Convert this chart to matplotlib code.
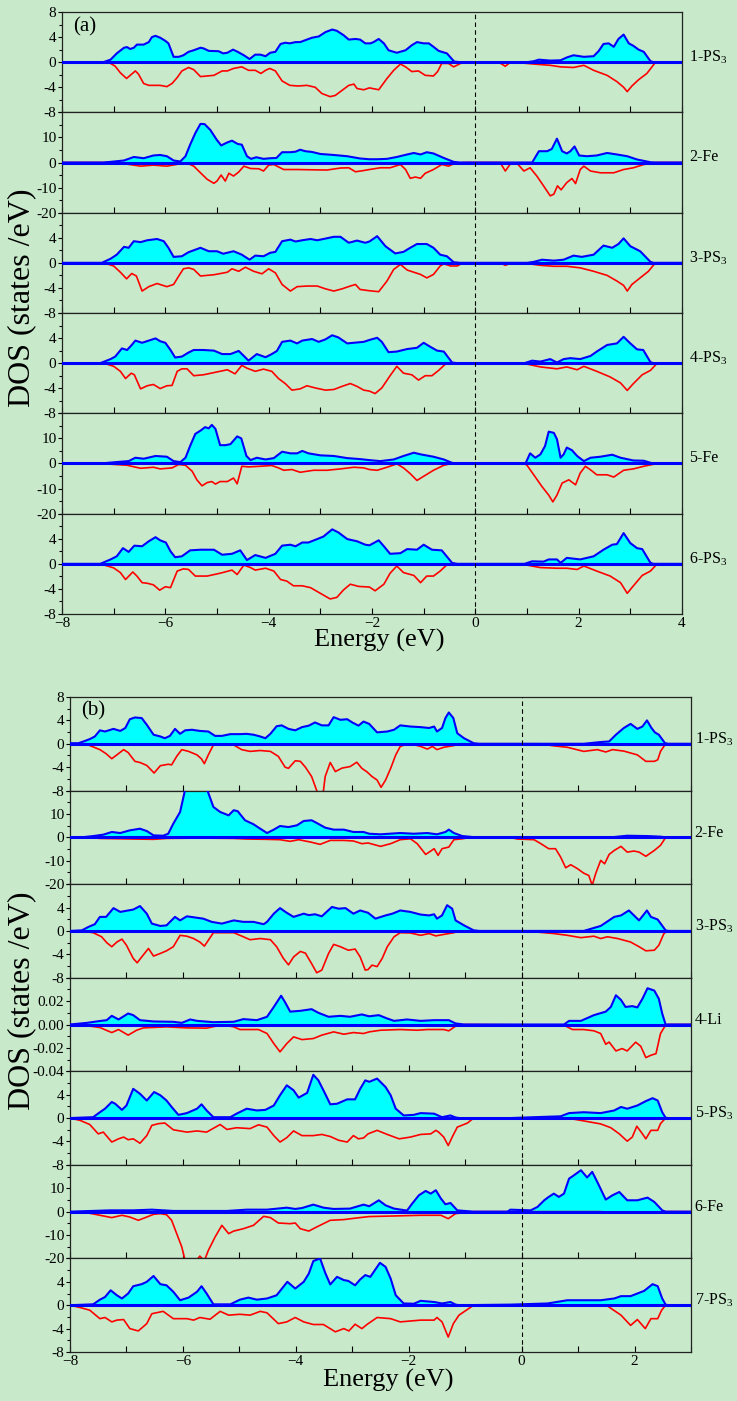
import matplotlib
matplotlib.use("Agg")
import matplotlib.pyplot as plt
from matplotlib.ticker import FixedLocator, MultipleLocator, FixedFormatter

plt.rcParams['font.family'] = ['Liberation Serif', 'DejaVu Serif']
plt.rcParams['mathtext.fontset'] = 'custom'
plt.rcParams['mathtext.rm'] = 'Liberation Serif'
plt.rcParams['mathtext.it'] = 'Liberation Serif:italic'

BG = '#c8eacb'
CYAN = '#00ffff'
BLUE = '#0000ff'
RED = '#ff0000'

# ---- panel (a): spin up / spin down DOS, (energy, dos) pairs ----
a1_up = [(-8, 0), (-7.2, 0), (-7.06, 0.4), (-6.94, 1.4), (-6.8, 2.3), (-6.74, 2.4), (-6.68, 2.1), (-6.61, 2.3), (-6.55, 2.8), (-6.42, 2.8), (-6.32, 3.2), (-6.26, 4.0), (-6.19, 4.2), (-6.1, 3.9), (-6.0, 3.4), (-5.94, 3.0), (-5.84, 0.85), (-5.74, 0.85), (-5.65, 1.1), (-5.55, 1.65), (-5.45, 1.9), (-5.32, 2.3), (-5.26, 2.2), (-5.16, 1.8), (-4.97, 1.75), (-4.88, 1.4), (-4.8, 1.5), (-4.69, 2.0), (-4.6, 1.65), (-4.48, 1.1), (-4.37, 0.5), (-4.26, 1.2), (-4.16, 1.2), (-4.06, 0.95), (-3.97, 1.5), (-3.87, 1.65), (-3.77, 2.9), (-3.68, 3.1), (-3.59, 3.0), (-3.48, 3.2), (-3.39, 3.2), (-3.26, 3.6), (-3.16, 3.9), (-3.03, 4.1), (-2.9, 4.8), (-2.77, 5.2), (-2.68, 5.0), (-2.55, 4.3), (-2.45, 3.6), (-2.32, 3.7), (-2.23, 3.6), (-2.13, 3.0), (-2.03, 3.0), (-1.97, 3.2), (-1.87, 3.7), (-1.77, 3.0), (-1.68, 1.9), (-1.52, 1.5), (-1.35, 1.9), (-1.23, 2.7), (-1.13, 3.2), (-1.0, 3.0), (-0.9, 3.0), (-0.81, 2.45), (-0.71, 1.8), (-0.55, 1.4), (-0.41, 0.1), (-0.3, 0), (1.0, 0), (1.13, 0.15), (1.23, 0.4), (1.45, 0.25), (1.65, 0.3), (1.77, 0.75), (1.9, 1.1), (2.1, 0.85), (2.29, 0.95), (2.39, 1.8), (2.48, 2.9), (2.58, 3.0), (2.68, 2.45), (2.77, 3.7), (2.87, 4.4), (2.97, 3.0), (3.06, 2.6), (3.16, 2.0), (3.26, 1.65), (3.39, 0.15), (3.45, 0), (4, 0)]
a1_dn = [(-8, 0), (-7.19, 0), (-7.06, -0.2), (-6.97, -0.65), (-6.87, -1.7), (-6.75, -2.6), (-6.68, -2.1), (-6.58, -1.4), (-6.52, -1.9), (-6.42, -3.4), (-6.32, -3.7), (-6.1, -3.7), (-5.97, -3.9), (-5.87, -3.4), (-5.77, -2.45), (-5.68, -1.4), (-5.55, -0.85), (-5.45, -1.2), (-5.32, -2.3), (-5.19, -2.2), (-5.06, -2.1), (-4.9, -1.4), (-4.8, -1.4), (-4.68, -1.0), (-4.52, -0.75), (-4.39, -1.3), (-4.26, -1.3), (-4.15, -1.8), (-4.06, -1.3), (-3.98, -1.0), (-3.87, -1.4), (-3.74, -3.0), (-3.59, -3.7), (-3.43, -3.8), (-3.26, -3.7), (-3.1, -4.0), (-2.97, -5.0), (-2.81, -5.5), (-2.71, -5.3), (-2.58, -4.5), (-2.45, -3.7), (-2.35, -3.5), (-2.29, -4.2), (-2.16, -4.4), (-2.05, -4.1), (-1.87, -4.4), (-1.71, -2.6), (-1.58, -1.3), (-1.45, -0.3), (-1.35, -0.75), (-1.23, -1.5), (-1.1, -1.4), (-0.97, -2.1), (-0.81, -2.2), (-0.73, -1.5), (-0.65, -0.2), (-0.52, -0.2), (-0.42, -0.75), (-0.26, -0.1), (-0.15, 0), (0.45, 0), (0.58, -0.65), (0.68, 0), (0.87, -0.1), (1.13, -0.3), (1.45, -0.5), (1.65, -0.75), (1.9, -0.85), (2.1, -0.5), (2.29, -1.3), (2.55, -2.1), (2.74, -3.1), (2.87, -4.0), (2.94, -4.7), (3.03, -3.8), (3.16, -2.8), (3.32, -1.8), (3.48, -0.1), (3.55, 0), (4, 0)]

a2_up = [(-8, 0), (-7.2, 0), (-7.06, 0.25), (-6.8, 0.8), (-6.61, 2.2), (-6.42, 1.7), (-6.23, 2.8), (-6.1, 3.0), (-5.97, 2.5), (-5.84, 0.8), (-5.71, 0.4), (-5.61, 2.5), (-5.52, 7.1), (-5.42, 11.7), (-5.32, 15.4), (-5.24, 15.3), (-5.13, 13.0), (-5.01, 9.2), (-4.92, 6.8), (-4.8, 8.0), (-4.71, 8.7), (-4.6, 7.4), (-4.52, 7.1), (-4.42, 2.5), (-4.34, 1.45), (-4.24, 2.1), (-4.1, 1.45), (-3.97, 1.7), (-3.85, 1.8), (-3.74, 4.1), (-3.58, 4.1), (-3.48, 4.3), (-3.39, 5.1), (-3.29, 4.5), (-3.16, 4.2), (-3.0, 3.4), (-2.74, 3.0), (-2.48, 2.5), (-2.23, 1.6), (-2.05, 1.3), (-1.9, 1.3), (-1.71, 1.45), (-1.52, 2.2), (-1.32, 3.2), (-1.19, 3.8), (-1.06, 3.2), (-0.94, 4.1), (-0.81, 3.6), (-0.61, 1.8), (-0.42, 0.25), (-0.3, 0), (1.1, 0), (1.23, 4.5), (1.39, 4.5), (1.48, 5.4), (1.58, 9.5), (1.68, 4.5), (1.77, 3.6), (1.84, 4.5), (1.92, 6.4), (2.01, 2.8), (2.16, 2.5), (2.35, 2.8), (2.55, 3.8), (2.74, 3.2), (2.94, 2.5), (3.13, 1.2), (3.39, 0.1), (3.5, 0), (4, 0)]
a2_dn = [(-8, 0), (-7.1, 0), (-6.74, -0.65), (-6.48, -1.45), (-6.23, -1.05), (-5.97, -1.45), (-5.71, -0.5), (-5.58, -0.25), (-5.45, -1.45), (-5.32, -4.1), (-5.19, -6.7), (-5.06, -8.3), (-5.0, -7.4), (-4.92, -5.0), (-4.84, -7.4), (-4.77, -4.3), (-4.68, -5.4), (-4.58, -3.8), (-4.48, -1.45), (-4.35, -2.4), (-4.19, -2.5), (-4.1, -3.4), (-4.0, -1.05), (-3.9, -0.8), (-3.71, -2.8), (-3.45, -2.8), (-3.19, -2.9), (-2.87, -3.0), (-2.61, -2.2), (-2.45, -2.1), (-2.32, -3.7), (-2.16, -3.2), (-2.05, -2.8), (-1.84, -2.1), (-1.65, -2.1), (-1.45, -0.8), (-1.35, -2.8), (-1.26, -6.3), (-1.16, -5.8), (-1.06, -6.3), (-0.97, -4.3), (-0.81, -2.8), (-0.65, -0.8), (-0.52, -1.45), (-0.39, -0.25), (-0.26, -0.1), (-0.15, 0), (0.48, 0), (0.58, -3.4), (0.68, -0.5), (0.81, -0.4), (0.94, -3.4), (1.06, -2.1), (1.19, -5.4), (1.32, -9.3), (1.45, -13.3), (1.52, -12.6), (1.59, -9.3), (1.66, -10.9), (1.77, -8.0), (1.87, -6.4), (1.94, -8.4), (2.03, -2.8), (2.1, -1.45), (2.23, -3.4), (2.42, -4.1), (2.68, -4.1), (2.87, -2.8), (3.06, -2.1), (3.26, -0.8), (3.45, -0.1), (3.55, 0), (4, 0)]

a3_up = [(-8, 0), (-7.23, 0), (-7.06, 0.65), (-6.94, 1.3), (-6.8, 2.55), (-6.71, 2.4), (-6.61, 3.45), (-6.48, 3.3), (-6.35, 3.6), (-6.16, 3.8), (-6.03, 3.45), (-5.94, 2.4), (-5.84, 0.95), (-5.68, 1.05), (-5.55, 1.7), (-5.45, 2.0), (-5.32, 2.4), (-5.16, 1.85), (-5.0, 1.85), (-4.88, 1.45), (-4.68, 1.85), (-4.52, 1.3), (-4.37, 0.5), (-4.26, 1.15), (-4.1, 1.05), (-3.97, 1.6), (-3.87, 1.75), (-3.74, 3.45), (-3.58, 3.7), (-3.48, 3.4), (-3.35, 3.6), (-3.19, 3.8), (-3.06, 3.6), (-2.94, 3.8), (-2.74, 4.15), (-2.61, 4.15), (-2.45, 3.2), (-2.29, 3.55), (-2.13, 3.2), (-2.05, 3.4), (-1.9, 4.25), (-1.74, 2.65), (-1.55, 1.5), (-1.39, 1.75), (-1.26, 2.4), (-1.13, 3.0), (-0.94, 3.0), (-0.81, 2.4), (-0.68, 1.3), (-0.55, 1.05), (-0.42, 0.1), (-0.3, 0), (1.0, 0), (1.13, 0.15), (1.29, 0.5), (1.52, 0.35), (1.71, 0.5), (1.9, 1.15), (2.06, 0.95), (2.29, 1.3), (2.48, 2.75), (2.65, 2.4), (2.77, 3.0), (2.87, 3.9), (3.0, 2.65), (3.19, 1.85), (3.39, 0.15), (3.45, 0), (4, 0)]
a3_dn = [(-8, 0), (-7.19, 0), (-7.0, -0.5), (-6.87, -1.5), (-6.75, -2.55), (-6.65, -1.7), (-6.56, -2.1), (-6.45, -4.5), (-6.32, -3.8), (-6.16, -3.3), (-5.97, -3.8), (-5.84, -3.45), (-5.74, -2.1), (-5.65, -0.95), (-5.55, -0.8), (-5.45, -1.05), (-5.32, -2.1), (-5.06, -1.9), (-4.8, -1.5), (-4.71, -0.95), (-4.58, -1.35), (-4.45, -0.7), (-4.29, -1.35), (-4.13, -1.75), (-4.0, -0.95), (-3.87, -1.6), (-3.74, -3.45), (-3.58, -4.5), (-3.45, -3.8), (-3.26, -3.7), (-3.06, -3.7), (-2.9, -4.15), (-2.74, -4.5), (-2.58, -4.15), (-2.42, -3.7), (-2.32, -3.45), (-2.23, -4.25), (-2.05, -4.45), (-1.87, -4.6), (-1.71, -2.9), (-1.58, -1.05), (-1.45, -0.25), (-1.32, -1.15), (-1.19, -1.5), (-1.06, -1.85), (-0.94, -2.4), (-0.81, -1.85), (-0.68, -0.5), (-0.61, -0.15), (-0.48, -0.5), (-0.35, -0.5), (-0.26, -0.1), (-0.15, 0), (0.48, 0), (0.58, -0.4), (0.68, -0.05), (1.0, -0.1), (1.26, -0.4), (1.52, -0.55), (1.77, -0.55), (2.03, -0.8), (2.29, -1.35), (2.55, -2.0), (2.74, -2.9), (2.87, -3.6), (2.94, -4.5), (3.03, -3.45), (3.19, -2.4), (3.35, -1.35), (3.48, -0.05), (3.55, 0), (4, 0)]

a4_up = [(-8, 0), (-7.26, 0), (-7.06, 0.65), (-6.97, 1.05), (-6.84, 2.35), (-6.74, 2.1), (-6.65, 2.9), (-6.58, 3.6), (-6.45, 3.25), (-6.32, 3.6), (-6.19, 3.95), (-6.1, 3.5), (-6.0, 3.25), (-5.9, 2.1), (-5.81, 0.9), (-5.68, 1.05), (-5.55, 1.7), (-5.45, 2.1), (-5.26, 2.1), (-5.06, 2.0), (-4.9, 1.45), (-4.74, 1.45), (-4.58, 1.95), (-4.48, 1.15), (-4.39, 0.4), (-4.23, 1.45), (-4.06, 0.95), (-3.94, 1.45), (-3.84, 1.95), (-3.74, 3.4), (-3.58, 3.6), (-3.45, 3.15), (-3.35, 3.6), (-3.16, 3.85), (-3.03, 3.4), (-2.9, 3.8), (-2.77, 4.45), (-2.65, 4.1), (-2.48, 3.15), (-2.29, 3.3), (-2.16, 3.4), (-2.05, 3.7), (-1.9, 4.05), (-1.81, 3.4), (-1.68, 1.75), (-1.52, 1.85), (-1.32, 2.25), (-1.13, 2.45), (-1.0, 3.25), (-0.87, 2.6), (-0.74, 2.0), (-0.61, 1.85), (-0.45, 0.1), (-0.35, 0), (0.95, 0), (1.1, 0.4), (1.26, 0.25), (1.45, 0.65), (1.58, 0.1), (1.71, 0.65), (1.84, 0.8), (2.03, 0.65), (2.23, 1.15), (2.35, 1.85), (2.55, 2.9), (2.74, 3.15), (2.87, 4.2), (3.0, 3.15), (3.13, 2.2), (3.25, 2.1), (3.39, 0.15), (3.45, 0), (4, 0)]
a4_dn = [(-8, 0), (-7.19, 0), (-7.0, -0.5), (-6.87, -1.3), (-6.77, -2.45), (-6.66, -1.6), (-6.6, -1.85), (-6.48, -4.1), (-6.35, -3.6), (-6.23, -3.4), (-6.1, -4.05), (-5.97, -3.6), (-5.87, -3.55), (-5.77, -1.3), (-5.68, -0.9), (-5.58, -0.9), (-5.45, -2.0), (-5.26, -1.85), (-5.0, -1.4), (-4.8, -1.05), (-4.65, -1.7), (-4.52, -0.35), (-4.42, -0.8), (-4.26, -1.3), (-4.1, -0.95), (-3.94, -1.3), (-3.81, -2.45), (-3.68, -3.25), (-3.55, -4.3), (-3.39, -4.1), (-3.26, -3.6), (-3.1, -3.95), (-2.9, -4.3), (-2.74, -4.2), (-2.58, -3.7), (-2.42, -3.25), (-2.29, -3.7), (-2.16, -4.3), (-2.05, -4.45), (-1.94, -4.85), (-1.81, -3.95), (-1.65, -2.0), (-1.52, -0.5), (-1.39, -1.6), (-1.23, -1.85), (-1.1, -2.7), (-0.97, -2.0), (-0.84, -2.0), (-0.71, -1.15), (-0.58, -0.15), (-0.5, 0), (0.9, 0), (1.0, -0.15), (1.26, -0.6), (1.58, -0.9), (1.77, -0.6), (1.97, -1.05), (2.1, -0.5), (2.35, -1.3), (2.61, -2.2), (2.81, -3.15), (2.94, -4.35), (3.06, -3.25), (3.23, -1.85), (3.39, -1.15), (3.52, 0), (4, 0)]

a5_up = [(-8, 0), (-7.26, 0), (-6.87, 0.7), (-6.71, 0.95), (-6.58, 2.3), (-6.42, 1.9), (-6.19, 3.0), (-5.97, 2.7), (-5.84, 0.95), (-5.71, 0.55), (-5.61, 2.3), (-5.52, 7.0), (-5.42, 11.8), (-5.32, 13.1), (-5.23, 14.5), (-5.16, 14.0), (-5.1, 15.4), (-5.03, 13.8), (-4.94, 7.3), (-4.84, 7.3), (-4.74, 7.7), (-4.61, 10.8), (-4.53, 10.0), (-4.43, 3.0), (-4.35, 1.35), (-4.23, 2.3), (-4.06, 1.6), (-3.9, 2.15), (-3.74, 4.7), (-3.58, 4.05), (-3.45, 4.05), (-3.35, 5.0), (-3.23, 4.05), (-3.0, 3.25), (-2.74, 3.0), (-2.48, 2.15), (-2.23, 1.75), (-2.05, 1.35), (-1.84, 0.95), (-1.58, 1.6), (-1.39, 3.0), (-1.19, 4.3), (-1.06, 3.65), (-0.81, 2.7), (-0.61, 1.6), (-0.45, 0.25), (-0.35, 0), (0.97, 0), (1.06, 4.05), (1.16, 2.3), (1.26, 3.65), (1.35, 7.0), (1.42, 12.7), (1.52, 12.2), (1.58, 9.7), (1.65, 2.3), (1.71, 3.65), (1.77, 6.35), (1.87, 5.3), (1.97, 3.0), (2.1, 0.95), (2.23, 2.3), (2.42, 2.7), (2.65, 3.5), (2.81, 2.3), (3.06, 1.2), (3.26, 1.1), (3.42, 0.1), (3.5, 0), (4, 0)]
a5_dn = [(-8, 0), (-7.26, 0), (-6.74, -0.7), (-6.48, -1.9), (-6.23, -1.5), (-6.1, -2.15), (-5.87, -1.75), (-5.74, -0.4), (-5.61, -0.7), (-5.48, -3.1), (-5.39, -6.5), (-5.29, -8.9), (-5.19, -7.6), (-5.1, -7.2), (-5.03, -8.2), (-4.94, -7.2), (-4.8, -7.2), (-4.68, -5.8), (-4.61, -8.1), (-4.52, -1.1), (-4.39, -1.35), (-4.16, -1.1), (-3.94, -0.8), (-3.81, -1.75), (-3.71, -2.7), (-3.55, -2.4), (-3.39, -3.5), (-3.13, -2.7), (-2.87, -2.7), (-2.61, -2.15), (-2.35, -1.5), (-2.16, -1.75), (-2.05, -2.4), (-1.9, -2.7), (-1.71, -1.5), (-1.52, -0.15), (-1.39, -1.75), (-1.26, -4.05), (-1.13, -6.75), (-1.0, -5.1), (-0.81, -2.7), (-0.61, -0.7), (-0.45, 0), (0.95, 0), (1.0, -0.7), (1.13, -4.5), (1.29, -9.2), (1.42, -12.6), (1.5, -15.3), (1.58, -12.6), (1.68, -7.8), (1.81, -6.5), (1.94, -8.5), (2.03, -3.8), (2.13, -1.1), (2.24, -2.7), (2.35, -4.5), (2.55, -4.5), (2.68, -5.4), (2.87, -2.7), (3.06, -2.15), (3.26, -1.1), (3.45, -0.3), (3.55, 0), (4, 0)]

a6_up = [(-8, 0), (-7.26, 0), (-7.06, 0.7), (-6.94, 1.2), (-6.82, 2.5), (-6.71, 1.9), (-6.6, 2.9), (-6.45, 2.8), (-6.32, 3.6), (-6.19, 4.25), (-6.1, 3.75), (-5.99, 3.4), (-5.9, 2.0), (-5.81, 1.05), (-5.68, 1.2), (-5.52, 2.15), (-5.32, 2.25), (-5.06, 2.25), (-4.9, 1.45), (-4.71, 1.6), (-4.55, 2.15), (-4.42, 0.6), (-4.26, 1.4), (-4.06, 0.95), (-3.87, 1.6), (-3.74, 2.9), (-3.58, 3.05), (-3.48, 2.8), (-3.35, 3.4), (-3.23, 3.4), (-3.06, 3.95), (-2.94, 4.35), (-2.77, 5.5), (-2.65, 5.0), (-2.48, 3.95), (-2.29, 3.6), (-2.13, 3.05), (-2.05, 2.95), (-1.87, 3.75), (-1.77, 2.8), (-1.65, 1.6), (-1.45, 1.7), (-1.32, 2.35), (-1.13, 2.25), (-1.0, 3.05), (-0.84, 2.25), (-0.65, 2.15), (-0.45, 0.15), (-0.35, 0), (0.95, 0), (1.1, 0.4), (1.32, 0.35), (1.42, 0.7), (1.58, 0.7), (1.65, 0.15), (1.77, 0.95), (2.03, 0.7), (2.29, 1.2), (2.48, 2.25), (2.65, 3.05), (2.74, 3.15), (2.87, 4.9), (3.0, 3.3), (3.13, 2.5), (3.23, 2.35), (3.39, 0.15), (3.45, 0), (4, 0)]
a6_dn = [(-8, 0), (-7.26, 0), (-7.0, -0.65), (-6.87, -1.4), (-6.77, -2.5), (-6.63, -1.3), (-6.55, -1.95), (-6.45, -3.0), (-6.35, -3.1), (-6.23, -3.35), (-6.11, -4.2), (-6.0, -3.65), (-5.9, -3.8), (-5.77, -1.15), (-5.65, -0.8), (-5.55, -0.9), (-5.42, -1.95), (-5.19, -1.95), (-4.94, -1.5), (-4.71, -1.0), (-4.61, -1.7), (-4.48, -0.2), (-4.35, -0.6), (-4.26, -1.0), (-4.06, -0.7), (-3.9, -1.15), (-3.77, -2.5), (-3.65, -2.75), (-3.52, -3.5), (-3.35, -3.5), (-3.19, -3.8), (-3.0, -4.7), (-2.81, -5.6), (-2.68, -5.35), (-2.55, -4.15), (-2.42, -3.25), (-2.26, -3.6), (-2.05, -3.7), (-1.94, -4.3), (-1.77, -3.25), (-1.65, -1.5), (-1.52, -0.35), (-1.39, -1.4), (-1.19, -1.85), (-1.06, -3.0), (-0.94, -1.95), (-0.81, -1.95), (-0.68, -1.15), (-0.55, -0.15), (-0.45, 0), (0.9, 0), (1.0, -0.2), (1.26, -0.6), (1.58, -0.7), (1.77, -0.7), (1.97, -0.9), (2.1, -0.35), (2.35, -1.15), (2.61, -1.95), (2.81, -3.0), (2.94, -4.7), (3.06, -3.5), (3.23, -1.85), (3.39, -1.15), (3.52, 0), (4, 0)]

# ---- panel (b) ----
b1_up = [(-8, 0.1), (-7.85, 0.1), (-7.76, 0.4), (-7.65, 0.8), (-7.56, 1.25), (-7.47, 2.3), (-7.38, 2.1), (-7.23, 2.55), (-7.11, 2.2), (-7.02, 2.7), (-6.94, 4.2), (-6.85, 4.5), (-6.73, 4.4), (-6.64, 3.25), (-6.52, 1.55), (-6.4, 1.25), (-6.32, 0.95), (-6.23, 1.35), (-6.14, 2.55), (-6.05, 1.7), (-5.96, 2.3), (-5.84, 2.4), (-5.7, 2.2), (-5.55, 2.1), (-5.43, 1.35), (-5.31, 1.35), (-5.16, 1.65), (-4.99, 1.65), (-4.87, 1.7), (-4.75, 1.55), (-4.63, 1.25), (-4.54, 0.95), (-4.45, 1.7), (-4.34, 3.0), (-4.25, 3.15), (-4.13, 2.55), (-4.01, 2.3), (-3.89, 2.85), (-3.77, 3.1), (-3.66, 3.65), (-3.54, 3.15), (-3.42, 3.15), (-3.33, 4.55), (-3.21, 4.1), (-3.09, 4.2), (-3.0, 3.65), (-2.89, 3.1), (-2.8, 3.8), (-2.7, 3.4), (-2.56, 1.95), (-2.38, 2.1), (-2.26, 2.4), (-2.15, 3.15), (-1.97, 2.95), (-1.79, 2.85), (-1.64, 2.7), (-1.55, 2.95), (-1.5, 2.1), (-1.41, 2.7), (-1.35, 4.4), (-1.29, 5.35), (-1.21, 4.4), (-1.14, 1.8), (-1.02, 0.95), (-0.85, 0.1), (-0.75, 0), (1.1, 0), (1.4, 0.3), (1.55, 0.4), (1.67, 1.55), (1.81, 2.7), (1.93, 3.4), (2.05, 2.55), (2.14, 2.95), (2.22, 4.0), (2.3, 2.7), (2.36, 1.95), (2.43, 1.55), (2.54, 0.1), (2.6, 0), (3, 0)]
b1_dn = [(-8, 0), (-7.7, 0), (-7.65, -0.3), (-7.47, -1.0), (-7.36, -1.7), (-7.26, -2.55), (-7.17, -1.9), (-7.05, -1.0), (-6.97, -1.5), (-6.85, -3.0), (-6.76, -3.2), (-6.64, -3.7), (-6.51, -5.0), (-6.4, -3.75), (-6.26, -3.5), (-6.2, -3.6), (-6.11, -2.15), (-6.02, -1.0), (-5.9, -1.3), (-5.75, -1.9), (-5.67, -2.6), (-5.62, -3.4), (-5.55, -1.9), (-5.46, -0.2), (-5.1, -0.2), (-4.96, -1.0), (-4.81, -1.3), (-4.63, -1.15), (-4.45, -1.3), (-4.31, -2.15), (-4.19, -4.0), (-4.13, -4.2), (-4.01, -2.9), (-3.92, -3.0), (-3.83, -4.0), (-3.72, -5.6), (-3.63, -8.0), (-3.57, -9.0), (-3.51, -8.0), (-3.48, -5.6), (-3.39, -3.2), (-3.3, -4.75), (-3.18, -4.15), (-3.04, -3.9), (-2.92, -3.15), (-2.83, -4.2), (-2.74, -4.8), (-2.65, -5.6), (-2.56, -6.2), (-2.49, -7.45), (-2.41, -6.2), (-2.32, -4.2), (-2.23, -1.9), (-2.15, -0.45), (-2.03, -0.05), (-1.91, -0.15), (-1.79, -0.45), (-1.67, -0.9), (-1.58, -0.45), (-1.5, -1.0), (-1.38, -0.6), (-1.2, -0.3), (-1.1, 0), (0.3, 0), (0.57, -0.35), (0.81, -0.6), (1.1, -1.3), (1.34, -1.0), (1.49, -1.4), (1.61, -1.0), (1.81, -1.25), (2.05, -1.9), (2.2, -3.0), (2.35, -3.0), (2.41, -2.75), (2.46, -1.3), (2.55, 0), (3, 0)]

b2_up = [(-8, 0), (-7.8, 0), (-7.59, 0.55), (-7.41, 1.15), (-7.26, 2.3), (-7.11, 1.85), (-6.94, 3.0), (-6.76, 3.7), (-6.64, 2.7), (-6.52, 0.85), (-6.35, 0.7), (-6.26, 1.55), (-6.17, 5.85), (-6.05, 10.85), (-5.96, 20.5), (-5.85, 24), (-5.7, 24), (-5.58, 21), (-5.46, 13.0), (-5.34, 10.85), (-5.19, 9.4), (-5.1, 11.6), (-5.03, 11.2), (-4.9, 7.3), (-4.75, 5.6), (-4.63, 3.7), (-4.51, 1.85), (-4.39, 3.3), (-4.28, 4.85), (-4.13, 4.4), (-3.98, 5.15), (-3.86, 7.0), (-3.72, 7.3), (-3.63, 6.15), (-3.48, 4.15), (-3.33, 3.3), (-3.15, 3.3), (-2.98, 2.3), (-2.8, 2.3), (-2.7, 1.55), (-2.5, 1.3), (-2.15, 1.85), (-1.91, 1.55), (-1.67, 1.85), (-1.5, 1.3), (-1.35, 2.3), (-1.29, 3.3), (-1.2, 1.85), (-1.05, 0.55), (-0.85, 0.1), (-0.75, 0), (1.5, 0), (1.64, 0.15), (1.87, 0.7), (2.23, 0.55), (2.46, 0.3), (2.55, 0), (3, 0)]
b2_dn = [(-8, 0), (-7.6, -0.2), (-7.47, -0.45), (-6.88, -0.7), (-6.52, -0.85), (-6.29, -0.45), (-5.7, -0.3), (-5.1, -0.45), (-4.87, -0.7), (-4.51, -0.85), (-4.28, -1.0), (-4.1, -1.7), (-3.95, -1.0), (-3.74, -2.0), (-3.57, -3.0), (-3.39, -1.3), (-3.15, -1.3), (-2.98, -1.55), (-2.83, -2.7), (-2.72, -2.4), (-2.5, -3.85), (-2.32, -2.7), (-2.15, -1.0), (-1.97, -0.6), (-1.85, -2.7), (-1.7, -7.3), (-1.61, -5.85), (-1.55, -4.85), (-1.48, -7.7), (-1.41, -4.85), (-1.29, -4.15), (-1.2, -1.0), (-1.05, -0.6), (-0.9, 0), (-0.2, 0), (-0.08, -0.7), (0.22, -1.0), (0.34, -2.7), (0.48, -4.85), (0.6, -4.85), (0.69, -8.4), (0.78, -13.0), (0.87, -11.7), (0.99, -13.4), (1.1, -15.3), (1.19, -16.3), (1.25, -20.5), (1.31, -15.6), (1.4, -9.85), (1.47, -11.3), (1.55, -7.3), (1.64, -5.6), (1.76, -3.85), (1.87, -6.3), (1.99, -5.85), (2.08, -6.3), (2.2, -8.1), (2.35, -5.6), (2.46, -3.4), (2.55, -0.1), (2.6, 0), (3, 0)]

b3_up = [(-8, 0), (-7.79, 0.1), (-7.67, 0.7), (-7.56, 1.15), (-7.47, 2.4), (-7.36, 2.4), (-7.23, 3.9), (-7.11, 3.25), (-6.97, 3.5), (-6.88, 3.65), (-6.76, 4.25), (-6.64, 2.95), (-6.55, 1.25), (-6.4, 0.85), (-6.29, 0.95), (-6.14, 2.4), (-6.05, 1.8), (-5.93, 2.5), (-5.75, 2.25), (-5.64, 2.1), (-5.49, 1.55), (-5.31, 1.25), (-5.1, 1.8), (-4.93, 1.55), (-4.75, 1.55), (-4.57, 1.15), (-4.51, 1.55), (-4.39, 2.95), (-4.28, 3.9), (-4.16, 3.1), (-4.04, 2.4), (-3.86, 2.95), (-3.77, 2.7), (-3.66, 2.85), (-3.54, 2.5), (-3.36, 4.1), (-3.24, 3.8), (-3.12, 3.9), (-2.98, 2.95), (-2.86, 3.5), (-2.72, 3.1), (-2.59, 2.1), (-2.41, 2.65), (-2.29, 2.95), (-2.15, 3.5), (-1.97, 3.25), (-1.79, 2.8), (-1.64, 2.65), (-1.55, 2.85), (-1.5, 2.1), (-1.41, 2.65), (-1.32, 4.4), (-1.23, 3.8), (-1.17, 1.8), (-1.02, 0.95), (-0.85, 0.1), (-0.75, 0), (1.1, 0), (1.4, 0.85), (1.64, 2.4), (1.76, 2.65), (1.9, 3.5), (1.99, 2.65), (2.08, 1.8), (2.22, 3.5), (2.29, 2.4), (2.41, 1.95), (2.55, 0.1), (2.6, 0), (3, 0)]
b3_dn = [(-8, 0), (-7.82, 0), (-7.59, -0.3), (-7.44, -1.0), (-7.35, -2.0), (-7.26, -2.7), (-7.17, -1.9), (-7.08, -1.4), (-7.0, -2.45), (-6.88, -4.7), (-6.81, -5.45), (-6.73, -4.45), (-6.61, -3.0), (-6.52, -4.3), (-6.4, -3.85), (-6.29, -3.4), (-6.17, -2.7), (-6.05, -0.75), (-5.93, -0.9), (-5.81, -1.3), (-5.7, -1.9), (-5.62, -2.6), (-5.55, -1.6), (-5.46, -0.3), (-5.1, -0.3), (-4.99, -0.75), (-4.81, -1.5), (-4.63, -1.3), (-4.45, -1.5), (-4.34, -2.7), (-4.22, -4.7), (-4.13, -5.8), (-4.04, -4.45), (-3.92, -3.5), (-3.83, -3.8), (-3.72, -5.6), (-3.63, -7.15), (-3.54, -6.7), (-3.42, -3.85), (-3.33, -2.3), (-3.21, -2.7), (-3.07, -3.3), (-2.95, -3.1), (-2.86, -4.45), (-2.77, -6.7), (-2.72, -6.6), (-2.65, -5.85), (-2.56, -6.1), (-2.47, -4.7), (-2.38, -2.7), (-2.26, -1.0), (-2.15, -0.3), (-1.97, -0.35), (-1.79, -0.75), (-1.64, -0.45), (-1.52, -0.85), (-1.38, -0.6), (-1.2, -0.3), (-1.1, 0), (-0.2, 0), (0.22, -0.15), (0.57, -0.45), (0.81, -0.75), (1.05, -1.15), (1.28, -0.9), (1.4, -1.3), (1.52, -1.0), (1.7, -1.3), (1.93, -1.9), (2.08, -2.7), (2.2, -3.4), (2.35, -3.3), (2.43, -2.45), (2.52, -0.45), (2.58, 0), (3, 0)]

b4_up = [(-8, 0), (-7.7, 0.0014), (-7.47, 0.003), (-7.35, 0.0037), (-7.26, 0.0074), (-7.14, 0.0043), (-6.97, 0.0094), (-6.88, 0.008), (-6.76, 0.0037), (-6.52, 0.0026), (-6.17, 0.0023), (-6.02, 0.0014), (-5.87, 0.0043), (-5.75, 0.0031), (-5.46, 0.002), (-5.1, 0.0023), (-4.93, 0.0046), (-4.69, 0.0037), (-4.51, 0.0066), (-4.39, 0.015), (-4.26, 0.0246), (-4.19, 0.019), (-4.1, 0.011), (-3.92, 0.0117), (-3.72, 0.0131), (-3.6, 0.01), (-3.42, 0.0066), (-3.21, 0.0074), (-3.04, 0.0066), (-2.83, 0.0086), (-2.7, 0.007), (-2.53, 0.008), (-2.38, 0.0051), (-2.26, 0.0031), (-2.03, 0.0043), (-1.79, 0.0031), (-1.55, 0.0037), (-1.29, 0.0037), (-1.17, 0.0009), (-1.02, 0), (0.75, 0), (0.84, 0.0031), (1.05, 0.0031), (1.28, 0.008), (1.49, 0.011), (1.58, 0.015), (1.67, 0.025), (1.76, 0.021), (1.84, 0.015), (1.96, 0.0157), (2.05, 0.0146), (2.14, 0.022), (2.23, 0.031), (2.35, 0.029), (2.43, 0.022), (2.49, 0.0094), (2.55, 0), (3, 0)]
b4_dn = [(-8, 0), (-7.76, -0.0006), (-7.47, -0.0026), (-7.26, -0.0069), (-7.14, -0.0043), (-6.97, -0.0091), (-6.82, -0.0049), (-6.7, -0.0029), (-6.29, -0.002), (-5.93, -0.0029), (-5.58, -0.0031), (-5.31, -0.0003), (-5.1, -0.002), (-4.99, -0.0043), (-4.66, -0.0043), (-4.51, -0.0077), (-4.39, -0.0163), (-4.28, -0.0234), (-4.16, -0.0163), (-4.04, -0.0106), (-3.89, -0.0129), (-3.69, -0.012), (-3.54, -0.0091), (-3.33, -0.0063), (-3.15, -0.0083), (-2.98, -0.0069), (-2.8, -0.0077), (-2.7, -0.0063), (-2.5, -0.0049), (-2.15, -0.0043), (-1.85, -0.0049), (-1.67, -0.0043), (-1.38, -0.0043), (-1.29, -0.0054), (-1.17, -0.0014), (-1.02, 0), (0.75, -0.0006), (0.9, -0.0043), (1.1, -0.0043), (1.28, -0.0054), (1.4, -0.0077), (1.49, -0.0169), (1.55, -0.015), (1.67, -0.0226), (1.78, -0.0206), (1.87, -0.0226), (2.02, -0.0151), (2.11, -0.0186), (2.2, -0.0283), (2.29, -0.0263), (2.38, -0.0249), (2.46, -0.0077), (2.55, -0.0006), (2.6, 0), (3, 0)]

b5_up = [(-8, 0), (-7.59, 0.15), (-7.47, 1.0), (-7.38, 1.6), (-7.26, 2.75), (-7.2, 2.45), (-7.08, 1.4), (-7.0, 2.15), (-6.88, 5.0), (-6.76, 4.15), (-6.64, 3.0), (-6.51, 4.45), (-6.4, 3.9), (-6.29, 3.0), (-6.2, 1.9), (-6.08, 0.55), (-5.93, 0.85), (-5.75, 1.6), (-5.67, 2.35), (-5.58, 1.3), (-5.46, 0.15), (-5.16, 0.15), (-5.05, 0.75), (-4.87, 1.6), (-4.69, 1.3), (-4.54, 1.4), (-4.39, 2.15), (-4.28, 3.9), (-4.16, 5.6), (-4.04, 4.75), (-3.95, 3.5), (-3.8, 4.3), (-3.69, 7.4), (-3.6, 6.45), (-3.48, 4.15), (-3.39, 2.35), (-3.27, 2.45), (-3.09, 3.2), (-2.95, 3.2), (-2.86, 5.0), (-2.77, 6.45), (-2.7, 6.2), (-2.56, 6.75), (-2.41, 5.3), (-2.32, 3.9), (-2.23, 1.6), (-2.09, 0.45), (-1.91, 0.55), (-1.79, 0.85), (-1.55, 0.75), (-1.41, 0.15), (-1.26, 0.45), (-1.17, 0.1), (-1.1, 0), (-0.2, 0), (0.22, 0.15), (0.69, 0.3), (0.84, 0.85), (1.1, 1.0), (1.4, 0.85), (1.64, 1.3), (1.76, 1.9), (1.87, 1.6), (2.05, 2.15), (2.2, 2.9), (2.32, 3.4), (2.41, 3.0), (2.49, 1.0), (2.55, 0.05), (2.6, 0), (3, 0)]
b5_dn = [(-8, 0), (-7.82, -0.4), (-7.65, -1.1), (-7.5, -2.7), (-7.41, -2.4), (-7.26, -4.1), (-7.14, -3.55), (-7.05, -3.25), (-6.97, -3.7), (-6.88, -3.55), (-6.76, -4.3), (-6.64, -3.0), (-6.55, -1.25), (-6.43, -0.95), (-6.32, -0.85), (-6.17, -2.0), (-5.93, -2.4), (-5.75, -2.2), (-5.58, -2.4), (-5.34, -1.1), (-5.22, -1.95), (-5.05, -1.65), (-4.81, -1.8), (-4.66, -1.15), (-4.51, -1.55), (-4.39, -3.0), (-4.28, -4.1), (-4.16, -3.35), (-4.04, -2.2), (-3.89, -3.0), (-3.69, -3.0), (-3.54, -2.8), (-3.39, -3.15), (-3.24, -3.8), (-3.09, -4.1), (-2.98, -3.0), (-2.89, -3.55), (-2.8, -3.4), (-2.72, -2.7), (-2.56, -2.1), (-2.38, -2.8), (-2.17, -3.55), (-1.97, -3.25), (-1.79, -2.8), (-1.61, -2.7), (-1.52, -2.1), (-1.47, -2.4), (-1.38, -3.25), (-1.3, -4.7), (-1.23, -3.25), (-1.14, -1.55), (-0.96, -0.85), (-0.85, 0), (0.81, 0), (1.05, -0.4), (1.4, -1.0), (1.58, -1.65), (1.73, -2.7), (1.87, -3.95), (1.96, -3.25), (2.04, -1.4), (2.14, -2.7), (2.2, -3.55), (2.29, -2.1), (2.41, -2.1), (2.46, -0.95), (2.55, 0), (3, 0)]

b6_up = [(-8, 0), (-7.29, 0.55), (-6.88, 0.55), (-6.55, 0.85), (-6.17, 0.3), (-5.7, 0.3), (-5.22, 0.3), (-4.87, 0.85), (-4.51, 0.85), (-4.16, 1.7), (-4.01, 1.15), (-3.89, 1.55), (-3.69, 3.0), (-3.51, 1.7), (-3.33, 1.15), (-3.04, 1.3), (-2.8, 3.0), (-2.7, 2.3), (-2.53, 4.85), (-2.41, 2.7), (-2.26, 1.3), (-2.03, 0.45), (-1.94, 3.4), (-1.82, 7.0), (-1.7, 8.85), (-1.61, 7.7), (-1.52, 9.15), (-1.43, 5.6), (-1.35, 3.15), (-1.26, 3.7), (-1.14, 0.55), (-0.85, 0), (-0.25, 0), (-0.2, 0.85), (-0.02, 0.7), (0.16, 0.55), (0.28, 2.0), (0.4, 4.85), (0.48, 6.3), (0.57, 7.7), (0.66, 6.3), (0.75, 7.7), (0.84, 14.1), (0.93, 15.6), (1.05, 17.7), (1.16, 14.6), (1.25, 17.0), (1.34, 12.7), (1.49, 5.15), (1.61, 7.0), (1.73, 8.4), (1.87, 4.85), (2.05, 4.85), (2.23, 6.0), (2.35, 4.15), (2.49, 0.55), (2.55, 0), (3, 0)]
b6_dn = [(-8, 0), (-7.7, -0.45), (-7.47, -1.55), (-7.26, -2.55), (-7.08, -1.55), (-6.94, -2.3), (-6.79, -3.7), (-6.64, -2.3), (-6.52, -1.15), (-6.4, -0.85), (-6.29, -1.3), (-6.2, -3.7), (-6.11, -9.4), (-6.02, -15.1), (-5.96, -21), (-5.88, -23), (-5.78, -21.5), (-5.7, -19.0), (-5.62, -21), (-5.55, -16.6), (-5.43, -10.85), (-5.31, -5.85), (-5.19, -9.4), (-5.1, -8.3), (-4.93, -7.3), (-4.75, -5.85), (-4.57, -2.0), (-4.45, -2.55), (-4.31, -4.85), (-4.1, -5.15), (-4.01, -4.85), (-3.92, -7.3), (-3.77, -8.3), (-3.63, -6.55), (-3.39, -3.7), (-3.15, -3.4), (-2.92, -2.7), (-2.7, -2.1), (-2.26, -1.85), (-1.79, -1.55), (-1.43, -1.55), (-1.3, -3.0), (-1.17, -0.85), (-0.96, -0.3), (-0.85, 0), (1.4, 0), (1.76, -0.55), (1.99, -0.4), (2.35, -0.4), (2.52, 0), (3, 0)]

b7_up = [(-8, 0), (-7.59, 0.15), (-7.47, 0.95), (-7.38, 1.4), (-7.28, 2.55), (-7.17, 1.7), (-7.08, 1.15), (-6.97, 2.0), (-6.88, 3.25), (-6.73, 3.6), (-6.64, 4.0), (-6.52, 5.0), (-6.4, 3.6), (-6.29, 3.4), (-6.17, 2.3), (-6.05, 0.85), (-5.9, 1.3), (-5.75, 2.3), (-5.67, 3.25), (-5.58, 2.0), (-5.46, 0.15), (-5.16, 0.15), (-4.99, 0.95), (-4.84, 1.3), (-4.69, 0.95), (-4.51, 1.15), (-4.34, 1.7), (-4.22, 3.15), (-4.15, 4.0), (-4.01, 2.85), (-3.86, 4.0), (-3.77, 5.4), (-3.69, 7.55), (-3.57, 8.0), (-3.48, 5.55), (-3.39, 3.55), (-3.27, 4.85), (-3.15, 4.3), (-3.07, 4.15), (-2.95, 3.4), (-2.86, 4.4), (-2.77, 5.15), (-2.68, 4.85), (-2.51, 7.25), (-2.41, 6.55), (-2.32, 4.55), (-2.23, 1.7), (-2.09, 0.3), (-1.91, 0.25), (-1.79, 0.75), (-1.55, 0.55), (-1.41, 0.3), (-1.26, 0.55), (-1.17, 0.1), (-1.1, 0), (-0.2, 0.1), (0.46, 0.3), (0.81, 0.85), (1.4, 0.85), (1.64, 1.15), (1.76, 1.55), (1.93, 1.55), (2.17, 2.45), (2.32, 3.6), (2.41, 3.25), (2.49, 1.15), (2.55, 0.1), (2.6, 0), (3, 0)]
b7_dn = [(-8, 0), (-7.82, -0.4), (-7.65, -0.85), (-7.47, -2.3), (-7.38, -2.1), (-7.26, -2.85), (-7.17, -2.55), (-7.05, -2.45), (-6.94, -4.0), (-6.79, -4.4), (-6.64, -3.15), (-6.55, -1.45), (-6.35, -1.05), (-6.17, -2.3), (-5.93, -2.3), (-5.81, -2.55), (-5.7, -2.1), (-5.52, -2.4), (-5.34, -1.05), (-5.19, -1.7), (-4.99, -1.55), (-4.81, -1.7), (-4.63, -1.05), (-4.51, -1.3), (-4.31, -3.15), (-4.16, -2.85), (-4.01, -2.1), (-3.86, -2.85), (-3.69, -3.3), (-3.51, -3.3), (-3.3, -4.55), (-3.15, -4.0), (-3.06, -4.4), (-2.95, -3.25), (-2.83, -4.0), (-2.74, -3.3), (-2.56, -2.1), (-2.32, -2.3), (-2.15, -2.85), (-1.79, -2.55), (-1.55, -2.55), (-1.5, -2.1), (-1.41, -2.85), (-1.3, -5.45), (-1.21, -3.15), (-1.11, -1.7), (-0.85, 0), (1.5, 0), (1.76, -1.7), (1.93, -3.45), (2.05, -2.45), (2.19, -4.0), (2.29, -2.3), (2.41, -2.3), (2.48, -0.85), (2.55, 0), (3, 0)]

labels_a = ['1-PS$_3$', '2-Fe', '3-PS$_3$', '4-PS$_3$', '5-Fe', '6-PS$_3$']
kinds_a = ['ps3', 'fe', 'ps3', 'ps3', 'fe', 'ps3']
curves_a = [(a1_up, a1_dn), (a2_up, a2_dn), (a3_up, a3_dn),
            (a4_up, a4_dn), (a5_up, a5_dn), (a6_up, a6_dn)]

labels_b = ['1-PS$_3$', '2-Fe', '3-PS$_3$', '4-Li', '5-PS$_3$', '6-Fe', '7-PS$_3$']
kinds_b = ['ps3', 'fe', 'ps3', 'li', 'ps3', 'fe', 'ps3']
curves_b = [(b1_up, b1_dn), (b2_up, b2_dn), (b3_up, b3_dn), (b4_up, b4_dn),
            (b5_up, b5_dn), (b6_up, b6_dn), (b7_up, b7_dn)]

# y range, major ticks, minor step, label format for each kind of site
YAXES = {
    'ps3': ((-8, 8), [-8, -4, 0, 4, 8], 2, '{:.0f}'),
    'fe': ((-20, 20), [-20, -10, 0, 10, 20], 5, '{:.0f}'),
    'li': ((-0.04, 0.04), [-0.04, -0.02, 0.0, 0.02, 0.04], 0.01, '{:.2f}'),
}

W, H = 737, 1401
fig = plt.figure(figsize=(W / 100, H / 100), dpi=100, facecolor=BG)


def draw_panel(curves, kinds, labels, box, xmax, tag, ylab_y, xlab_y, xlab_x,
               lab_dx):
    left, right, top, bottom = box
    n = len(curves)
    h = (bottom - top) / n
    for i, ((up, dn), kind, lab) in enumerate(zip(curves, kinds, labels)):
        ax = fig.add_axes([left / W, 1 - (top + (i + 1) * h) / H,
                           (right - left) / W, h / H])
        ax.set_facecolor(BG)
        eu = [p[0] for p in up]
        vu = [p[1] for p in up]
        ed = [p[0] for p in dn]
        vd = [p[1] for p in dn]
        ax.fill_between(eu, 0, vu, color=CYAN, lw=0, zorder=1)
        ax.plot(ed, vd, color=RED, lw=1.2, zorder=2)
        ax.plot(eu, vu, color=BLUE, lw=1.5, zorder=3)
        ax.axhline(0, color=BLUE, lw=2.2, zorder=3)
        ax.axvline(0, color='black', lw=0.8, ls=(0, (4, 3)), zorder=4)

        ylim, yt, ystep, fmt = YAXES[kind]
        ax.set_xlim(-8, xmax)
        ax.set_ylim(*ylim)
        ax.yaxis.set_major_locator(FixedLocator(yt))
        ylabels = [fmt.format(v) for v in yt]
        if i > 0:
            ylabels[-1] = ''
        ax.yaxis.set_major_formatter(FixedFormatter(ylabels))
        ax.yaxis.set_minor_locator(MultipleLocator(ystep))
        ax.xaxis.set_major_locator(MultipleLocator(2))
        ax.xaxis.set_minor_locator(MultipleLocator(1))
        ax.tick_params(axis='x', which='both', direction='in', length=4,
                       width=0.8, top=False, labelsize=11, pad=2,
                       labelbottom=(i == n - 1))
        ax.tick_params(axis='y', which='major', direction='out', length=3,
                       width=0.8, labelsize=11, pad=1)
        ax.tick_params(axis='y', which='minor', direction='out', length=2,
                       width=0.8)
        for s in ax.spines.values():
            s.set_linewidth(0.9)
            s.set_color('#222222')

        ax.text(1 + lab_dx, 0.55, lab, transform=ax.transAxes, fontsize=11.5,
                ha='left', va='center')
        if i == 0:
            ax.text(0.018, 0.95, tag, transform=ax.transAxes, fontsize=15,
                    ha='left', va='top')

    fig.text(22 / W, 1 - ylab_y / H, 'DOS (states /eV)', rotation=90,
             fontsize=23, ha='center', va='center')
    fig.text(xlab_x / W, 1 - xlab_y / H, 'Energy (eV)', fontsize=19,
             ha='center', va='center')


draw_panel(curves_a, kinds_a, labels_a, (62, 682, 12, 614), 4, '(a)',
           298, 640, 379, 0.012)
draw_panel(curves_b, kinds_b, labels_b, (70, 691, 697, 1352), 3, '(b)',
           1001, 1380, 388, 0.006)

fig.savefig('out.png', dpi=100, facecolor=BG)
